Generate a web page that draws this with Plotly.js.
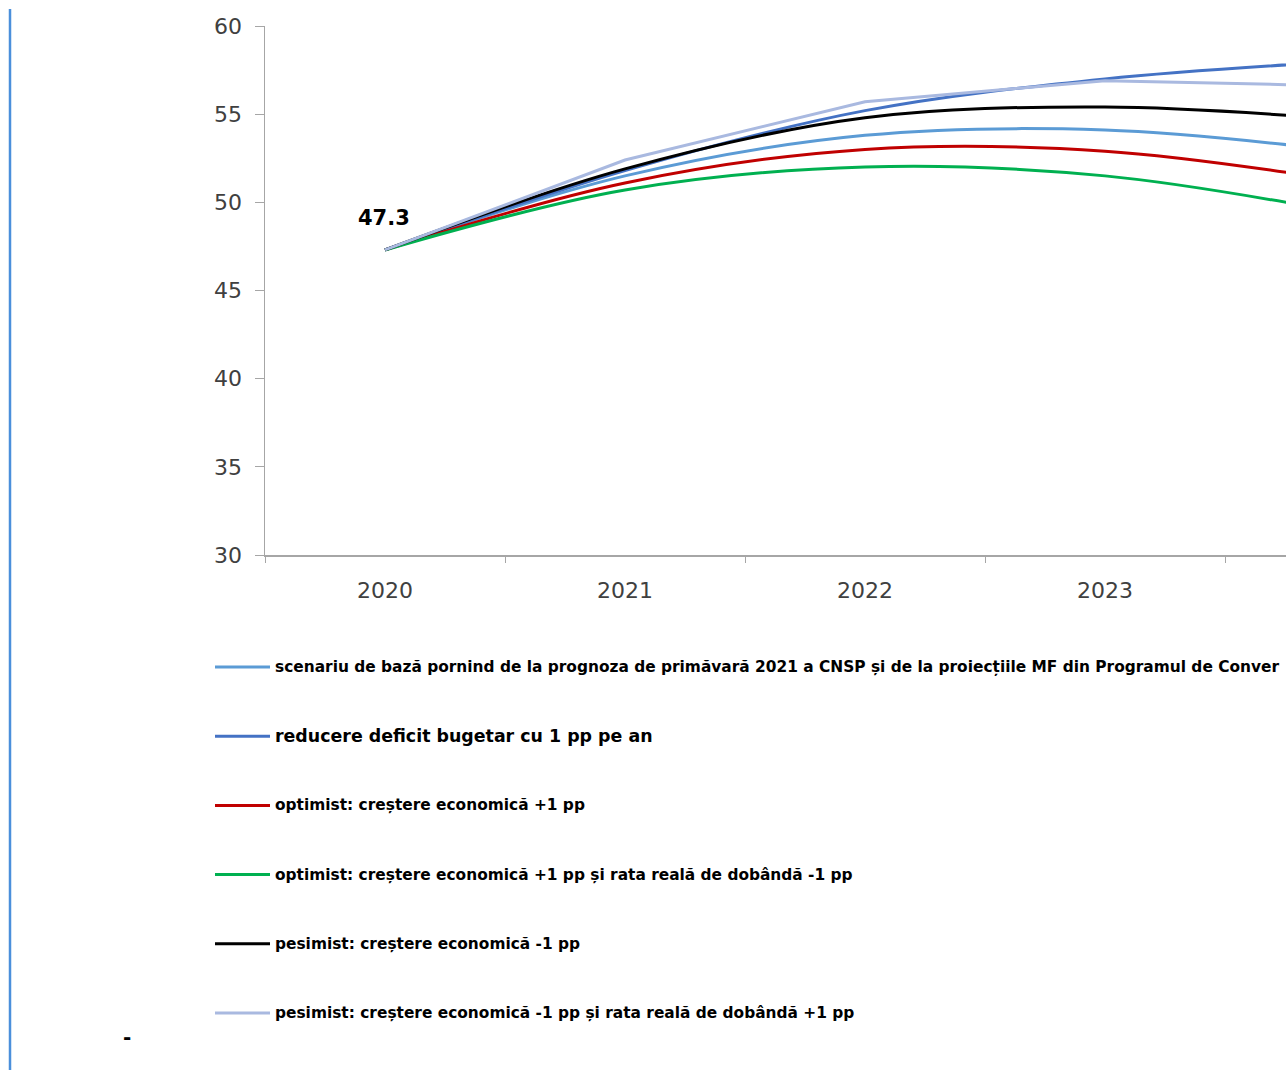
<!DOCTYPE html>
<html>
<head>
<meta charset="utf-8">
<script src="https://cdn.plot.ly/plotly-3.0.1.min.js"></script>
<style>
html,body{margin:0;padding:0;background:#fff;}
#chart{width:1286px;height:1070px;}
</style>
</head>
<body>
<div id="chart"></div>
<script>
// ---- data ----
const years = ["2020", "2021", "2022", "2023", "2024"];
const scenariuBaza      = [47.3, 51.5, 53.8, 54.1, 52.9];
const reducereDeficit   = [47.3, 51.8, 55.2, 57.0, 58.0];
const optimist          = [47.3, 51.1, 53.0, 52.9, 51.2];
const optimistDobanda   = [47.3, 50.7, 52.0, 51.5, 49.4];
const pesimist          = [47.3, 51.9, 54.8, 55.4, 54.7];
const pesimistDobanda   = [47.3, 52.4, 55.7, 56.9, 56.6];

// legend texts as visible in the reference (first one is cut at the picture's edge)
const seriesNames = [
  "scenariu de bază pornind de la prognoza de primăvară 2021 a CNSP și de la proiecțiile MF din Programul de Conver",
  "reducere deficit bugetar cu 1 pp pe an",
  "optimist: creștere economică +1 pp",
  "optimist: creștere economică +1 pp și rata reală de dobândă -1 pp",
  "pesimist: creștere economică -1 pp",
  "pesimist: creștere economică -1 pp și rata reală de dobândă +1 pp"
];
const seriesValues = [scenariuBaza, reducereDeficit, optimist, optimistDobanda, pesimist, pesimistDobanda];
const seriesColors = ["#5B9BD5", "#4472C4", "#C00000", "#00B050", "#000000", "#A9B9E0"];
const seriesShapes = ["spline", "spline", "spline", "spline", "spline", "linear"];

const traces = seriesValues.map((vals, i) => ({
  type: "scatter",
  mode: "lines",
  x: years,
  y: vals,
  name: seriesNames[i],
  line: {color: seriesColors[i], width: 3, shape: seriesShapes[i], smoothing: 1},
  hoverinfo: "skip",
  showlegend: false
}));

const W = 1286, H = 1070;
const mL = 265, mR = 0, mT = 26, mB = 515;
const plotW = W - mL - mR, plotH = H - mT - mB;
const catW = 240; // pixels per category
const px2x = p => (p - mL) / plotW;
const px2y = p => 1 - (p - mT) / plotH;

// legend built from the series names / colours
const legendTop = 667, legendStep = 69.2;
const legendFontSizes = [15.4, 17.4, 15.4, 15.4, 15.4, 15.4];
const legendShapes = seriesNames.map((n, i) => ({
  type: "line", xref: "paper", yref: "paper",
  x0: px2x(215), x1: px2x(270),
  y0: px2y(legendTop + i * legendStep), y1: px2y(legendTop + i * legendStep),
  line: {color: seriesColors[i], width: 3}
}));
const legendLabels = seriesNames.map((n, i) => ({
  xref: "paper", yref: "paper",
  x: px2x(273), y: px2y(legendTop + i * legendStep),
  xanchor: "left", yanchor: "middle",
  text: "<b>" + n + "</b>", showarrow: false,
  font: {family: "DejaVu Sans, sans-serif", size: legendFontSizes[i], color: "#000000"}
}));

const layout = {
  width: W, height: H,
  margin: {l: mL, r: mR, t: mT, b: mB, pad: 0, autoexpand: false},
  paper_bgcolor: "#ffffff",
  plot_bgcolor: "#ffffff",
  showlegend: false,
  font: {family: "DejaVu Sans, sans-serif", color: "#404040"},
  xaxis: {
    type: "category",
    range: [-0.5, -0.5 + plotW / catW],
    showgrid: false, zeroline: false,
    showline: true, linecolor: "#A6A6A6", linewidth: 1.5,
    ticks: "outside", tickson: "boundaries", ticklen: 6, tickcolor: "#A6A6A6", tickwidth: 1,
    tickfont: {family: "DejaVu Sans, sans-serif", size: 22, color: "#404040"},
    ticklabelstandoff: 15,
    fixedrange: true
  },
  yaxis: {
    range: [30, 60], dtick: 5, tick0: 30,
    showgrid: false, zeroline: false,
    showline: true, linecolor: "#A6A6A6", linewidth: 1.5,
    ticks: "outside", ticklen: 9, tickcolor: "#A6A6A6", tickwidth: 1,
    tickfont: {family: "DejaVu Sans, sans-serif", size: 22, color: "#404040"},
    ticklabelstandoff: 8,
    fixedrange: true
  },
  annotations: [
    {
      x: years.indexOf(years[0]), y: scenariuBaza[0], xref: "x", yref: "y",
      text: "<b>" + scenariuBaza[0].toFixed(1) + "</b>",
      showarrow: false, yshift: 32, xshift: -1,
      xanchor: "center", yanchor: "middle",
      font: {family: "DejaVu Sans, sans-serif", size: 21, color: "#000000"}
    },
    {
      x: px2x(127), y: px2y(1037),
      xref: "paper", yref: "paper",
      xanchor: "center", yanchor: "middle",
      text: "<b>-</b>", showarrow: false,
      font: {family: "DejaVu Sans, sans-serif", size: 20, color: "#000000"}
    }
  ].concat(legendLabels),
  shapes: [
    {
      type: "line", xref: "paper", yref: "paper",
      x0: px2x(10), x1: px2x(10),
      y0: px2y(1070), y1: px2y(9),
      line: {color: "#4A8FDB", width: 2.5}
    }
  ].concat(legendShapes)
};

Plotly.newPlot("chart", traces, layout, {displayModeBar: false, staticPlot: true});
</script>
</body>
</html>
